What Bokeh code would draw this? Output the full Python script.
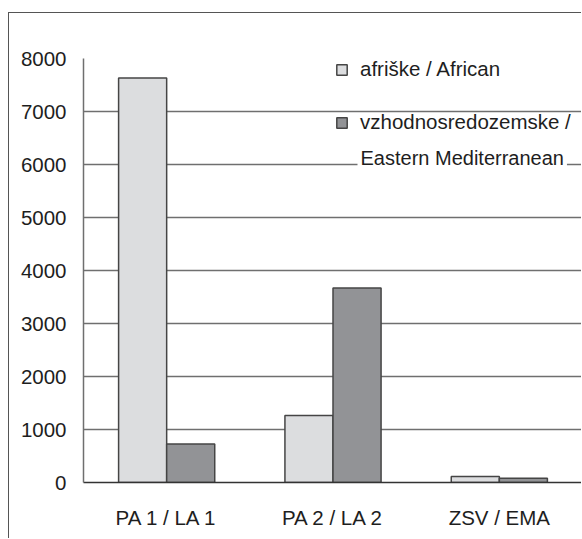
from bokeh.plotting import figure
from bokeh.models import (ColumnDataSource, FactorRange, Range1d, FixedTicker,
                          Legend, LegendItem, Label)
from bokeh.transform import dodge
from bokeh.embed import file_html
from bokeh.resources import INLINE

# ---- data ----
categories = ["PA 1 / LA 1", "PA 2 / LA 2", "ZSV / EMA"]
african = [7630, 1265, 115]
eastern_med = [725, 3670, 80]
y_ticks = [0, 1000, 2000, 3000, 4000, 5000, 6000, 7000, 8000]
series_labels = ["afriške / African", "vzhodnosredozemske /", "Eastern Mediterranean"]

FONT = "Liberation Sans"
FS = "20.5px"
GRID = "#6f6f6f"

source = ColumnDataSource(dict(cat=categories, african=african, eastern=eastern_med))

p = figure(x_range=FactorRange(*categories, range_padding=0),
           y_range=Range1d(0, 8000),
           width=573, height=526,
           output_backend="svg", toolbar_location=None,
           min_border_left=74, min_border_right=0,
           min_border_top=45, min_border_bottom=57)
p.margin = (12, 0, 0, 8)
p.styles = {"border-left": "1px solid #555", "border-top": "1px solid #555"}
p.outline_line_color = None
p.background_fill_color = "white"
p.border_fill_color = "white"

bw = 0.289
r1 = p.vbar(x=dodge("cat", -bw / 2, range=p.x_range), top="african", width=bw,
            source=source, fill_color="#dcdddf", line_color="#454545", line_width=1.5)
r2 = p.vbar(x=dodge("cat", bw / 2, range=p.x_range), top="eastern", width=bw,
            source=source, fill_color="#929396", line_color="#454545", line_width=1.5)

# grid
p.xgrid.grid_line_color = None
p.ygrid.ticker = FixedTicker(ticks=y_ticks)
p.ygrid.grid_line_color = GRID
p.ygrid.grid_line_width = 1.5

# y axis
p.yaxis.ticker = FixedTicker(ticks=y_ticks)
p.yaxis.major_tick_line_color = None
p.yaxis.minor_tick_line_color = None
p.yaxis.axis_line_color = GRID
p.yaxis.axis_line_width = 1.5
p.yaxis.major_label_text_font = FONT
p.yaxis.major_label_text_font_size = FS
p.yaxis.major_label_text_color = "#1e1e1e"
p.yaxis.major_label_standoff = 11

# x axis
p.xaxis.major_tick_line_color = None
p.xaxis.minor_tick_line_color = None
p.xaxis.axis_line_color = "#333333"
p.xaxis.axis_line_width = 1.5
p.xaxis.major_label_text_font = FONT
p.xaxis.major_label_text_font_size = FS
p.xaxis.major_label_text_color = "#1e1e1e"
p.xaxis.major_label_standoff = 17

legend = Legend(items=[LegendItem(label=series_labels[0], renderers=[r1]),
                       LegendItem(label=series_labels[1], renderers=[r2])],
                location=(252, 348), margin=0, padding=0, spacing=29,
                glyph_width=13, glyph_height=13, label_height=20,
                label_standoff=12,
                label_text_font=FONT, label_text_font_size=FS,
                label_text_color="#1e1e1e",
                border_line_color=None, background_fill_alpha=0)
p.add_layout(legend)

lbl = Label(x=274, y=325, x_units="screen", y_units="screen",
            text=series_labels[2], text_font=FONT, text_font_size="20px",
            text_color="#1e1e1e", text_baseline="middle", text_align="left",
            background_fill_color="white", padding=3)
p.add_layout(lbl)

open("out.html", "w").write(file_html(p, INLINE))
